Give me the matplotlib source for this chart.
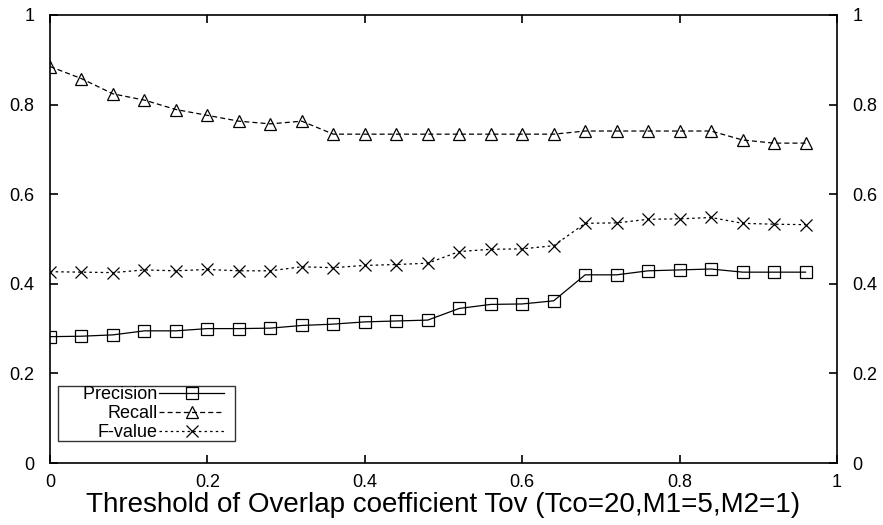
import matplotlib
matplotlib.use("Agg")
import matplotlib.pyplot as plt

x = [0.00, 0.04, 0.08, 0.12, 0.16, 0.20, 0.24, 0.28, 0.32, 0.36, 0.40, 0.44, 0.48,
     0.52, 0.56, 0.60, 0.64, 0.68, 0.72, 0.76, 0.80, 0.84, 0.88, 0.92, 0.96]
precision = [0.282, 0.283, 0.286, 0.295, 0.295, 0.300, 0.300, 0.301, 0.307, 0.310,
             0.315, 0.317, 0.319, 0.345, 0.354, 0.355, 0.362, 0.420, 0.420, 0.429,
             0.431, 0.433, 0.426, 0.426, 0.426]
recall = [0.885, 0.858, 0.824, 0.810, 0.789, 0.776, 0.763, 0.757, 0.763, 0.734,
          0.734, 0.734, 0.734, 0.734, 0.734, 0.734, 0.734, 0.741, 0.741, 0.741,
          0.741, 0.741, 0.721, 0.714, 0.714]
fvalue = [0.427, 0.426, 0.425, 0.431, 0.429, 0.432, 0.429, 0.429, 0.438, 0.436,
          0.441, 0.443, 0.446, 0.472, 0.477, 0.478, 0.485, 0.535, 0.536, 0.544,
          0.545, 0.548, 0.535, 0.533, 0.532]

xticks = [0, 0.2, 0.4, 0.6, 0.8, 1]
xticklabels = ["0", "0.2", "0.4", "0.6", "0.8", "1"]
yticks = [0, 0.2, 0.4, 0.6, 0.8, 1]
yticklabels = ["0", "0.2", "0.4", "0.6", "0.8", "1"]

plt.rcParams['font.family'] = ['Liberation Sans', 'DejaVu Sans']

fig = plt.figure(figsize=(8.83, 5.25), dpi=100)
ax = fig.add_axes([50/883, (525-463)/525, (837-50)/883, (463-15)/525])

ax.plot(x, precision, color='black', lw=0.9, ls='-', marker='s', ms=9,
        mfc='none', mec='black', mew=0.9, label='     Precision')
ax.plot(x, recall, color='black', lw=0.9, ls=(0, (4, 2.5)), marker='^', ms=9,
        mfc='none', mec='black', mew=0.9, label='Recall')
ax.plot(x, fvalue, color='black', lw=0.9, ls=(0, (2, 2.5)), marker='x', ms=9,
        mfc='none', mec='black', mew=0.9, label='F-value')

ax.set_xlim(0, 1)
ax.set_ylim(0, 1)
ax.set_xticks(xticks)
ax.set_xticklabels(xticklabels)
ax.set_yticks(yticks)
ax.set_yticklabels(yticklabels)
ax.tick_params(direction='in', length=6, width=1.2, labelsize=13,
               top=True, right=True, labelright=True, pad=8)
ax.tick_params(axis='y', pad=11)
for s in ax.spines.values():
    s.set_linewidth(1.2)

ax.set_xlabel('Threshold of Overlap coefficient Tov (Tco=20,M1=5,M2=1)',
              fontsize=20, labelpad=1)

leg = ax.legend(loc='lower left', bbox_to_anchor=(0.0105, 0.049, 0.225, 0.12),
                mode='expand', markerfirst=False,
                fontsize=13, frameon=True, fancybox=False, edgecolor='black',
                borderpad=0.0, labelspacing=0.1, handlelength=3.6,
                handletextpad=0.1, borderaxespad=0)
leg.get_frame().set_linewidth(1.0)
leg._legend_box.align = 'left'

fig.savefig('out.png', dpi=100)
